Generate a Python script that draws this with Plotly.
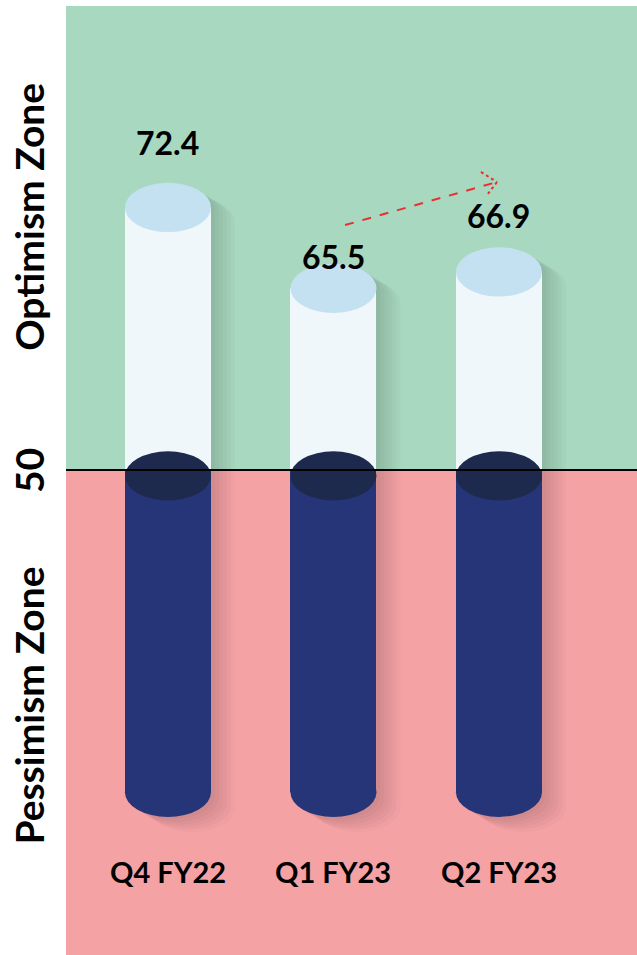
import plotly.graph_objects as go
import numpy as np

# ---- data ----
categories = ["Q4 FY22", "Q1 FY23", "Q2 FY23"]
values = [72.4, 65.5, 66.9]
threshold = 50
zone_labels = ["Optimism Zone", "50", "Pessimism Zone"]

# ---- style / layout constants ----
Y_MIN, Y_MAX = 8.62, 89.59
X_MIN, X_MAX = -0.616, 2.834
BASE_BOTTOM = 22.5       # visual base of cylinders
HALF_W = 0.26            # half width of cylinder (x units)
RY = 2.1                 # ellipse half height (y units)
GREEN = "#a8d8c0"
RED = "#f5a2a5"
LIGHT_BODY = "#f0f7fa"
LIGHT_TOP = "#c3e1f1"
DARK_BODY = "#253577"
DARK_TOP = "#1e2a4d"
FONT = "Lato"
label_shift = [65, 32, 56]

xs = list(range(len(categories)))

fig = go.Figure()

fig.add_trace(go.Bar(
    x=xs, y=[v - threshold for v in values], base=threshold,
    width=2 * HALF_W, marker=dict(color=LIGHT_BODY, line=dict(width=0)),
    hoverinfo="skip", showlegend=False))
fig.add_trace(go.Bar(
    x=xs, y=[threshold - BASE_BOTTOM] * len(xs), base=BASE_BOTTOM,
    width=2 * HALF_W, marker=dict(color=DARK_BODY, line=dict(width=0)),
    hoverinfo="skip", showlegend=False))

shapes = []
shapes.append(dict(type="rect", xref="paper", yref="y", x0=0, x1=1,
                   y0=threshold, y1=Y_MAX, fillcolor=GREEN, line=dict(width=0), layer="below"))
shapes.append(dict(type="rect", xref="paper", yref="y", x0=0, x1=1,
                   y0=Y_MIN, y1=threshold, fillcolor=RED, line=dict(width=0), layer="below"))

# soft shadows
px_x = 1 / 165.5
px_y = 1 / 11.72
t_top = np.linspace(0, np.pi, 30)
t_bot = np.linspace(np.pi, 2 * np.pi, 30)
for i, v in zip(xs, values):
    for k in range(1, 7):
        dx = k * 4 * px_x
        dy = -k * 2.5 * px_y
        pts = []
        for t in t_bot:
            pts.append((i + dx + HALF_W * np.cos(t), BASE_BOTTOM + dy + RY * np.sin(t)))
        for t in t_top:
            pts.append((i + dx + HALF_W * np.cos(t), v + dy + RY * np.sin(t)))
        path = "M " + " L ".join(f"{px:.4f},{py:.4f}" for px, py in pts) + " Z"
        shapes.append(dict(type="path", xref="x", yref="y", path=path,
                           fillcolor="rgba(0,0,0,0.022)", line=dict(width=0), layer="below"))

for i, v in zip(xs, values):
    shapes.append(dict(type="circle", xref="x", yref="y",
                       x0=i - HALF_W, x1=i + HALF_W, y0=BASE_BOTTOM - RY, y1=BASE_BOTTOM + RY,
                       fillcolor=DARK_BODY, line=dict(width=0), layer="above"))
    shapes.append(dict(type="circle", xref="x", yref="y",
                       x0=i - HALF_W, x1=i + HALF_W, y0=v - RY, y1=v + RY,
                       fillcolor=LIGHT_TOP, line=dict(width=0), layer="above"))
    shapes.append(dict(type="circle", xref="x", yref="y",
                       x0=i - HALF_W, x1=i + HALF_W, y0=threshold - RY - 0.5, y1=threshold + RY - 0.5,
                       fillcolor=DARK_TOP, line=dict(width=0), layer="above"))

shapes.append(dict(type="line", xref="paper", yref="y", x0=0, x1=1,
                   y0=threshold, y1=threshold, line=dict(color="black", width=2), layer="above"))

# dashed trend arrow (decorative)
arrow_color = "#e8312f"
shapes.append(dict(type="line", xref="x", yref="y", x0=1.07, y0=70.9, x1=1.988, y1=74.57,
                   line=dict(color=arrow_color, width=2, dash="dash"), layer="above"))
shapes.append(dict(type="line", xref="x", yref="y", x0=1.891, y0=75.43, x1=1.988, y1=74.57,
                   line=dict(color=arrow_color, width=2, dash="dot"), layer="above"))
shapes.append(dict(type="line", xref="x", yref="y", x0=1.988, y0=74.57, x1=1.928, y1=73.46,
                   line=dict(color=arrow_color, width=2, dash="dot"), layer="above"))

annotations = []
for i, v, s in zip(xs, values, label_shift):
    annotations.append(dict(x=i, y=v, xref="x", yref="y", text=f"<b>{v}</b>",
                            showarrow=False, yshift=s, yanchor="middle",
                            font=dict(family=FONT, size=32, color="black")))
for i, c in zip(xs, categories):
    annotations.append(dict(x=i, y=0.0875, xref="x", yref="paper", text=f"<b>{c}</b>",
                            showarrow=False, yanchor="middle",
                            font=dict(family=FONT, size=29, color="black")))

zone_y = [71.6, threshold, 29.9]
for txt, yy in zip(zone_labels, zone_y):
    annotations.append(dict(x=-0.0648, y=yy, xref="paper", yref="y", text=f"<b>{txt}</b>",
                            showarrow=False, textangle=-90, xanchor="center", yanchor="middle",
                            font=dict(family=FONT, size=39, color="black")))

fig.update_layout(
    width=637, height=955,
    margin=dict(l=66, r=0, t=6, b=0),
    paper_bgcolor="white", plot_bgcolor=GREEN,
    barmode="overlay", bargap=0,
    xaxis=dict(range=[X_MIN, X_MAX], visible=False, fixedrange=True),
    yaxis=dict(range=[Y_MIN, Y_MAX], visible=False, fixedrange=True),
    shapes=shapes, annotations=annotations, showlegend=False,
)

fig.write_html("out.html", config={"displayModeBar": False})
